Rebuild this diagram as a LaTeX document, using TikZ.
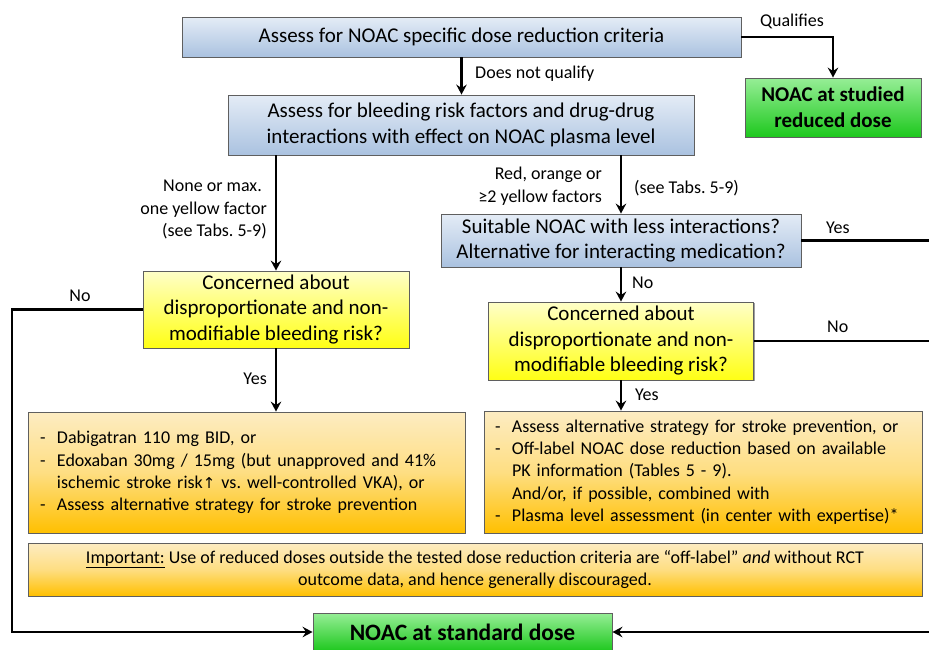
\documentclass[tikz,border=0pt]{standalone}
\usepackage{fontspec}
\setmainfont{Carlito}
\newfontfamily\mysymfont{DejaVu Sans}
\usetikzlibrary{arrows.meta,shadows,calc}
\frenchspacing
\definecolor{bluetop}{RGB}{228,236,246}
\definecolor{bluebot}{RGB}{170,194,224}
\definecolor{yeltop}{RGB}{255,255,200}
\definecolor{yelbot}{RGB}{255,255,20}
\definecolor{orgtop}{RGB}{253,236,194}
\definecolor{orgmid}{RGB}{254,222,130}
\definecolor{orgbot}{RGB}{255,192,0}
\definecolor{grntop}{RGB}{150,238,150}
\definecolor{grnbot}{RGB}{30,200,30}
\definecolor{boxline}{RGB}{95,95,95}
\newcommand\myBig{\fontsize{21}{25.5}\selectfont}
\newcommand\mySmall{\fontsize{18}{22.4}\selectfont}
\newcommand\myGrn{\fontsize{21}{26}\selectfont\bfseries}
\newcommand\myGrnB{\fontsize{23.5}{26}\selectfont\bfseries}
\newcommand\myDash{\makebox[17pt][l]{-}}
\newcommand\myInd{\hspace*{17pt}}
\tikzset{
  box/.style={draw=boxline, line width=0.9pt, inner sep=0pt, align=center,
    drop shadow={shadow xshift=1.3pt, shadow yshift=-1.3pt, opacity=0.5, fill=black!75}},
  bluebox/.style={box, top color=bluetop, bottom color=bluebot, font=\myBig},
  yelbox/.style={box, top color=yeltop, bottom color=yelbot, font=\myBig},
  orgbox/.style={box, top color=orgtop, bottom color=orgbot, middle color=orgmid, font=\mySmall},
  grnbox/.style={box, top color=grntop, bottom color=grnbot},
  lbl/.style={inner sep=0pt, font=\mySmall},
  conn/.style={line width=2.8pt, black},
  arr/.style={conn, -{Stealth[length=10pt,width=10.5pt,inset=3.5pt]}},
}
\begin{document}
\frenchspacing
\begin{tikzpicture}[x=1pt,y=-1pt]
\useasboundingbox (0,0) rectangle (929,649);
\fill[white] (0,0) rectangle (929,649);

% boxes
\node[bluebox, minimum width=559pt, minimum height=40pt] (b1) at (461.5,37) {Assess for NOAC specific dose reduction criteria};
\node[bluebox, minimum width=466pt, minimum height=60pt] (b2) at (461,125) {Assess for bleeding risk factors and drug-drug\\interactions with effect on NOAC plasma level};
\node[grnbox, font=\myGrn, minimum width=176pt, minimum height=59pt] (gtop) at (833,107.5) {NOAC at studied\\reduced dose};
\node[bluebox, minimum width=360pt, minimum height=53pt] (b3) at (621,240.5) {Suitable NOAC with less interactions?\\Alternative for interacting medication?};
\node[yelbox, minimum width=266pt, minimum height=77pt] (y1) at (276,309.5) {Concerned about\\disproportionate and non-\\modifiable bleeding risk?};
\node[yelbox, minimum width=265pt, minimum height=78pt] (y2) at (621,341) {Concerned about\\disproportionate and non-\\modifiable bleeding risk?};
\node[orgbox, minimum width=437pt, minimum height=121pt, inner xsep=12pt, text width=413pt, align=left] (o1) at (246.5,472.5) {%
\mbox{\myDash Dabigatran 110 mg BID, or}\\
\mbox{\myDash Edoxaban 30mg / 15mg (but unapproved and 41\%}\\
\mbox{\myInd ischemic stroke risk{\mysymfont\fontsize{15}{15}\selectfont ↑} vs.\ well-controlled VKA), or}\\
\mbox{\myDash Assess alternative strategy for stroke prevention}};
\node[orgbox, minimum width=438pt, minimum height=122pt, inner xsep=11pt, text width=416pt, align=left] (o2) at (703,472) {%
\mbox{\myDash Assess alternative strategy for stroke prevention, or}\\
\mbox{\myDash Off-label NOAC dose reduction based on available}\\
\mbox{\myInd PK information (Tables 5 - 9).}\\
\mbox{\myInd And/or, if possible, combined with}\\
\mbox{\myDash Plasma level assessment (in center with expertise)*}};
\node[orgbox, minimum width=894pt, minimum height=53pt, align=center] (imp) at (475,569.5) {\underline{Important:} Use of reduced doses outside the tested dose reduction criteria are “off-label” \textit{and} without RCT\\outcome data, and hence generally discouraged.};
\node[grnbox, font=\myGrnB, minimum width=299pt, minimum height=38pt] (gbot) at (462.5,632) {NOAC at standard dose};

% free ends
\coordinate (yesend) at (932,240.5);
\coordinate (noend) at (932,341);
\coordinate (rin) at (932,632);
\coordinate (lcorner) at (12,309.5);

% connectors
\draw[arr] (b1.south) -- (b1.south |- b2.north);
\draw[arr] (b1.east) -| (gtop.north);
\draw[arr] (b2.south -| y1.north) -- (y1.north);
\draw[arr] (b2.south -| b3.north) -- (b3.north);
\draw[arr] (b3.south) -- (b3.south |- y2.north);
\draw[arr] (y2.south) -- (y2.south |- o2.north);
\draw[arr] (y1.south) -- (y1.south |- o1.north);
\draw[arr] (y1.west) -- (lcorner) |- (gbot.west);
\draw[conn] (b3.east) -- (yesend);
\draw[conn] (y2.east) -- (noend);
\draw[arr] (rin) -- (gbot.east);

% labels
\node[lbl, anchor=west] (lq) at (475,74) {Does not qualify};
\node[lbl] (lqual) at (792,21) {Qualifies};
\node[lbl, anchor=east, align=right] (lnone) at (267,209.5) {None or max.\hspace*{5pt}\\one yellow factor\\(see Tabs.\ 5-9)};
\node[lbl, anchor=east, align=right] (lred) at (602,186) {Red, orange or\\≥2 yellow factors};
\node[lbl, anchor=west] (lsee) at (634,188) {(see Tabs.\ 5-9)};
\node[lbl, anchor=west] (lno1) at (632,283) {No};
\node[lbl, anchor=west] (lyes2) at (635,395) {Yes};
\node[lbl, anchor=east] (lyes1) at (267,379) {Yes};
\node[lbl] (lnoL) at (80,296) {No};
\node[lbl, anchor=west] (lyesR) at (826,228) {Yes};
\node[lbl, anchor=west] (lnoR) at (827,327) {No};
\end{tikzpicture}
\end{document}
